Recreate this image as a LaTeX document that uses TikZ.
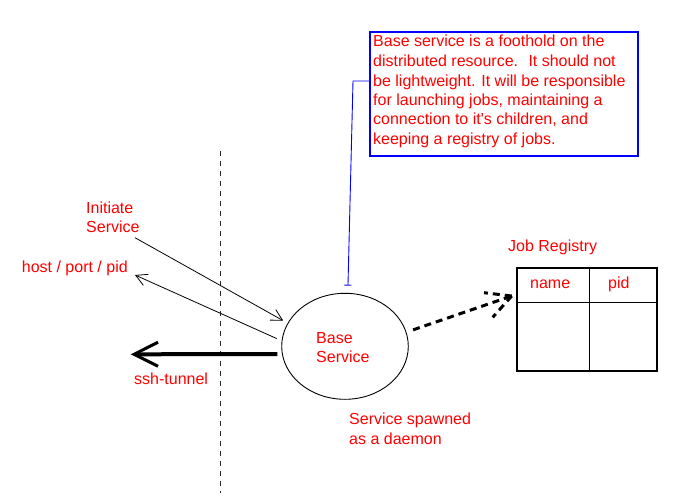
\documentclass[tikz,border=0pt]{standalone}
\usepackage{fontspec}
\setmainfont{Liberation Sans}[Ligatures=TeXOff]
\usetikzlibrary{arrows.meta,shapes.geometric}
\begin{document}
\begin{tikzpicture}[x=1pt,y=-1pt,
  lbl/.style={text=red,font=\fontsize{16}{19.5}\selectfont,inner sep=0pt,anchor=base west,align=left},
  thinline/.style={line width=0.8pt},
  openhead/.style={-{Straight Barb[length=11pt,width=12pt]}},
  boxline/.style={line width=1.1pt}]
\useasboundingbox (0,0) rectangle (691,500);
\fill[white] (0,0) rectangle (691,500);

% note box (multi-line nodes are placed by the baseline of their last line)
\node[draw=blue,line width=1.2pt,minimum width=268pt,minimum height=124pt,inner sep=0pt] (note) at (504,94) {};
\node[lbl] (notetext) at (373,144.5) {Base service is a foothold on the\\distributed resource.~ It should not\\be lightweight. It will be responsible\\for launching jobs, maintaining a\\connection to it's children, and\\keeping a registry of jobs.};

% base service
\node[ellipse,draw,line width=0.9pt,minimum width=126.6pt,minimum height=106pt,inner sep=0pt] (bs) at (345,346.3) {};
\node[lbl] (bstext) at (316,362.7) {Base\\Service};

% labels
\node[lbl] (init) at (86,232.7) {Initiate\\Service};
\node[lbl] (hpp) at (21.7,272.7) {host / port / pid};
\node[lbl] (ssh) at (134,384) {ssh-tunnel};
\node[lbl] (spawn) at (349,444.3) {Service spawned\\as a daemon};
\node[lbl] (jr) at (508,251.7) {Job Registry};

% registry table
\node[draw,boxline,minimum width=140pt,minimum height=103pt,inner sep=0pt] (reg) at (587,319.5) {};
\draw[boxline] (reg.north west) ++(73,0) -- ++(0,103);
\draw[boxline] (reg.north west) ++(0,35) -- ++(142,0);
\node[lbl] (nm) at (530,288.3) {name};
\node[lbl] (pd) at (608,288.3) {pid};

% boundary
\coordinate (vt) at (220.7,151);
\coordinate (vb) at (220.7,493);
\draw[line width=1pt,black!85,dash pattern=on 5pt off 5pt] (vt) -- (vb);

% connectors
\coordinate (initS) at (135,237.7);
\draw[thinline,openhead,shorten >=5pt] (initS) -- (bs.158);
\coordinate (hppE) at (135,275);
\draw[thinline,openhead,shorten <=5.4pt] (bs.175) -- (hppE);
\coordinate (sshE) at (130.7,354.3);
\draw[line width=4pt,-{Straight Barb[length=24pt,width=24pt,line width=3pt]},shorten <=4.5pt] (bs.187) -- (sshE);

\coordinate (regT) at (511.7,296);
\draw[line width=3pt,dash pattern=on 7pt off 5pt,shorten <=7pt] (bs.13) -- (regT);
\draw[line width=3pt,dash pattern=on 7pt off 5pt] (regT) -- ++(-27.7,-3.3);
\draw[line width=3pt,dash pattern=on 7pt off 5pt] (regT) -- ++(-19,21.3);

\coordinate (bend) at (353,81);
\draw[blue,line width=0.9pt,-{Bar[width=7pt]},shorten >=7.3pt] (note.west |- bend) -- (bend) -- (bs.87);
\end{tikzpicture}
\end{document}
